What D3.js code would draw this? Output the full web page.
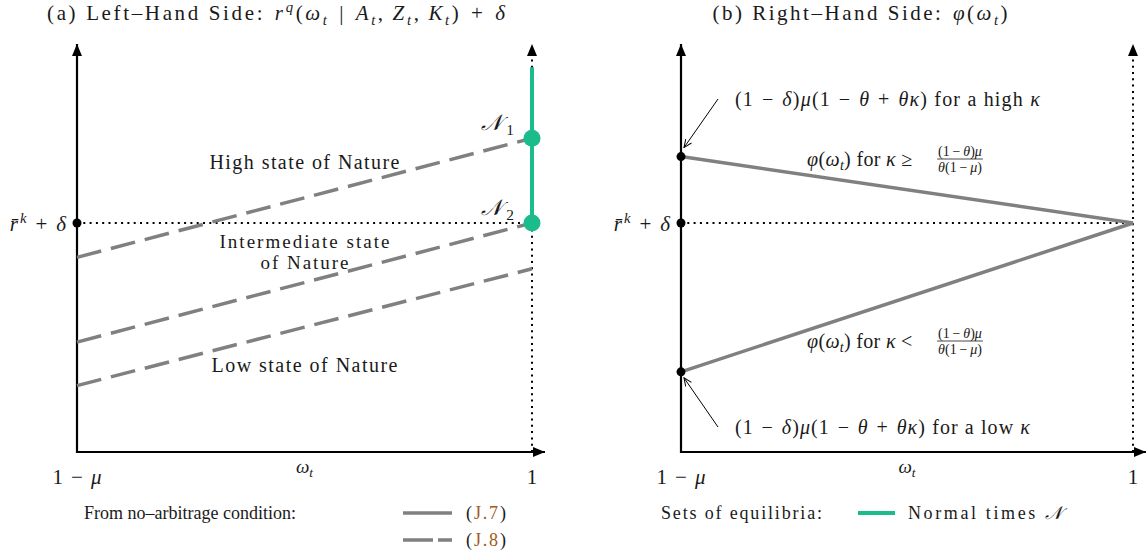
<!DOCTYPE html>
<html>
<head>
<meta charset="utf-8">
<script src="https://cdn.jsdelivr.net/npm/d3@7"></script>
<style>
    body { margin: 0; background: #fff; }
    text { font-family: "Liberation Serif", "Times New Roman", serif; fill: #1a1a1a; }
</style>
</head>
<body>
<div id="chart"></div>
<script>
// ---- data (y in units of r^k + delta = 1, x from 1 - mu = 0 to 1) ----
const xTickValues = [0, 1];
const xTickLabels = ["1 − μ", "1"];
const yRefValue = 1.0;                       // r^k + delta

const stateNames = ["High state of Nature", "Intermediate state of Nature", "Low state of Nature"];
const stateLeft = [0.85, 0.48, 0.29];        // value at 1 - mu
const stateRight = [1.37, 1.00, 0.80];       // value at 1

const normalTimesTop = 1.68;                 // green segment from y=1 up to here
const equilibriumValues = [1.37, 1.00];
const equilibriumNames = ["1", "2"];

const phiLeft = [1.29, 0.35];                // high kappa, low kappa
const phiRight = [1.00, 1.00];

const legendLeft = ["(J.7)", "(J.8)"];
const legendRight = ["Normal times"];

// ---- layout ----
const width = 1148, height = 553;
const yBottom = 452, yTopAxis = 44;
const grey = "#808080", green = "#1abc8c", refColor = "#a3581c";
const fs = 21;
const sp = "\u2004";   // slightly wider space around math operators

const svg = d3.select("#chart").append("svg")
    .attr("width", width)
    .attr("height", height);

const defs = svg.append("defs");
defs.append("marker")
    .attr("id", "tip")
    .attr("markerUnits", "userSpaceOnUse")
    .attr("viewBox", "0 0 12 10")
    .attr("refX", 12).attr("refY", 5)
    .attr("markerWidth", 12).attr("markerHeight", 10)
    .attr("orient", "auto")
    .append("path").attr("d", "M0,0 L12,5 L0,10 Z").attr("fill", "#000");
defs.append("marker")
    .attr("id", "thin")
    .attr("markerUnits", "userSpaceOnUse")
    .attr("viewBox", "0 0 10 10")
    .attr("refX", 9).attr("refY", 5)
    .attr("markerWidth", 10).attr("markerHeight", 10)
    .attr("orient", "auto")
    .append("path").attr("d", "M1,1.5 L9,5 L1,8.5").attr("fill", "none")
    .attr("stroke", "#000").attr("stroke-width", 1);

// math-ish text: parts are strings or [string, flags]; flags: i italic, _ sub, ^ sup, c script, r ref colour
// targetW stretches the letter spacing so the text is as wide as in the figure
function mathText(sel, x, y, parts, size, anchor, targetW) {
    const t = sel.append("text")
        .attr("x", x).attr("y", y)
        .attr("font-size", size)
        .attr("text-anchor", anchor || "start");
    let shift = 0, nChars = 0;
    parts.forEach(p => {
        const str = typeof p === "string" ? p : p[0];
        const flags = typeof p === "string" ? "" : p[1];
        const ts = t.append("tspan").text(str);
        nChars += [...str].length;
        let target = 0;
        if (flags.includes("_")) target = size * 0.22;
        if (flags.includes("^")) target = -size * 0.4;
        if (target !== shift) ts.attr("dy", target - shift);
        shift = target;
        if (flags.includes("i")) ts.attr("font-style", "italic");
        if (flags.includes("_") || flags.includes("^")) ts.attr("font-size", size * 0.7);
        if (flags.includes("c")) ts.attr("font-family", "'DejaVu Serif', serif").attr("font-style", "italic");
        if (flags.includes("r")) ts.style("fill", refColor);
    });
    if (targetW) {
        const len = t.node().getComputedTextLength();
        const ls = (targetW - len) / Math.max(1, nChars - 1);
        t.style("letter-spacing", ls + "px");
        if (anchor === "middle") t.attr("x", x + ls / 2);
        if (anchor === "end") t.attr("x", x + ls);
    }
    return t;
}

function fraction(sel, cx, yBar, num, den, size) {
    const a = mathText(sel, cx, yBar - 3, num, size, "middle");
    const b = mathText(sel, cx, yBar + size * 0.95, den, size, "middle");
    const w = Math.max(a.node().getComputedTextLength(), b.node().getComputedTextLength()) + 2;
    sel.append("line")
        .attr("x1", cx - w / 2).attr("x2", cx + w / 2)
        .attr("y1", yBar).attr("y2", yBar)
        .attr("stroke", "#1a1a1a").attr("stroke-width", 0.8);
}

function makePanel(x0, x1) {
    const x = d3.scaleLinear().domain([0, 1]).range([x0, x1]);
    const y = d3.scaleLinear().domain([0, yRefValue]).range([yBottom, 223]);
    const g = svg.append("g");

    // dotted guides
    g.append("line")
        .attr("x1", x(0)).attr("x2", x(1))
        .attr("y1", y(yRefValue)).attr("y2", y(yRefValue))
        .attr("stroke", "#000").attr("stroke-width", 2)
        .attr("stroke-dasharray", "2,4.3");
    g.append("line")
        .attr("x1", x(1)).attr("x2", x(1))
        .attr("y1", yBottom).attr("y2", yTopAxis)
        .attr("stroke", "#000").attr("stroke-width", 2)
        .attr("stroke-dasharray", "2,4.3")
        .attr("marker-end", "url(#tip)");

    // axes
    g.append("line")
        .attr("x1", x(0)).attr("x2", x(0))
        .attr("y1", yBottom + 1).attr("y2", yTopAxis)
        .attr("stroke", "#000").attr("stroke-width", 2.2)
        .attr("marker-end", "url(#tip)");
    g.append("line")
        .attr("x1", x(0) - 1).attr("x2", x(1) + 13)
        .attr("y1", yBottom).attr("y2", yBottom)
        .attr("stroke", "#000").attr("stroke-width", 2.2)
        .attr("marker-end", "url(#tip)");

    // tick labels
    xTickValues.forEach((v, i) => {
        const lab = xTickLabels[i].split("μ");
        const parts = lab.length > 1 ? [lab[0], ["μ", "i"]] : [lab[0]];
        mathText(g, x(v), yBottom + 32, parts, fs, "middle", lab.length > 1 ? 49 : null);
    });
    mathText(g, (x(0) + x(1)) / 2, yBottom + 21, [["ω", "i"], ["t", "i_"]], 19, "middle");
    mathText(g, x(0) - 11, y(yRefValue) + 8,
        [["r̄", "i"], ["k", "i^"], " + ", ["δ", "i"]], fs, "end", 58);
    g.append("circle")
        .attr("cx", x(0)).attr("cy", y(yRefValue)).attr("r", 4.5).attr("fill", "#000");

    return {g, x, y};
}

// ---------------- (a) left-hand side ----------------
const L = makePanel(77, 532);

mathText(svg, 276, 20, ["(a) Left–Hand Side:" + sp, ["r", "i"], ["q", "i^"], "(", ["ω", "i"], ["t", "i_"],
    sp + "|" + sp, ["A", "i"], ["t", "i_"], ",\u2009", ["Z", "i"], ["t", "i_"], ",\u2009", ["K", "i"], ["t", "i_"],
    ")" + sp + "+" + sp, ["δ", "i"]],
    fs, "middle", 458);

L.g.selectAll(".state")
    .data(stateNames)
    .enter().append("line")
    .attr("class", "state")
    .attr("x1", L.x(0)).attr("x2", L.x(1))
    .attr("y1", (d, i) => L.y(stateLeft[i]))
    .attr("y2", (d, i) => L.y(stateRight[i]))
    .attr("stroke", grey).attr("stroke-width", 3.5)
    .attr("stroke-dasharray", "25,10");

// normal times segment
L.g.append("line")
    .attr("x1", L.x(1)).attr("x2", L.x(1))
    .attr("y1", L.y(yRefValue)).attr("y2", L.y(normalTimesTop))
    .attr("stroke", green).attr("stroke-width", 4);
L.g.selectAll(".eq")
    .data(equilibriumValues)
    .enter().append("circle")
    .attr("class", "eq")
    .attr("cx", L.x(1)).attr("cy", d => L.y(d))
    .attr("r", 8.5).attr("fill", green);
equilibriumValues.forEach((v, i) => {
    mathText(L.g, L.x(1) - 18, L.y(v) - 8, [["𝒩", "c"], [" " + equilibriumNames[i], "_"]], 22, "end");
});

// state labels (second line of the intermediate one wraps)
const stateLabelPos = [1.236, 0.893, 0.349];
const stateLabelWidth = [[190], [170, 88], [186]];
const stateLabelLines = [["High state of Nature"], ["Intermediate state", "of Nature"], ["Low state of Nature"]];
stateLabelLines.forEach((lines, i) => {
    const t = L.g.append("text")
        .attr("font-size", lines.length > 1 ? fs - 2 : fs - 1)
        .attr("text-anchor", "middle");
    lines.forEach((s, j) => {
        const ts = t.append("tspan")
            .attr("x", L.x(0.5))
            .attr("y", L.y(stateLabelPos[i]) + j * 21)
            .text(s);
        const len = ts.node().getComputedTextLength();
        const ls = (stateLabelWidth[i][j] - len) / (s.length - 1);
        ts.style("letter-spacing", ls + "px").attr("x", L.x(0.5) + ls / 2);
    });
});

// ---------------- (b) right-hand side ----------------
const R = makePanel(681, 1133);

mathText(svg, 860, 20, ["(b) Right–Hand Side:" + sp, ["φ", "i"], "(", ["ω", "i"], ["t", "i_"], ")"], fs, "middle", 295);

R.g.selectAll(".phi")
    .data(phiLeft)
    .enter().append("line")
    .attr("class", "phi")
    .attr("x1", R.x(0)).attr("x2", R.x(1))
    .attr("y1", d => R.y(d))
    .attr("y2", (d, i) => R.y(phiRight[i]))
    .attr("stroke", grey).attr("stroke-width", 3.5);
R.g.selectAll(".phidot")
    .data(phiLeft)
    .enter().append("circle")
    .attr("class", "phidot")
    .attr("cx", R.x(0)).attr("cy", d => R.y(d))
    .attr("r", 4.5).attr("fill", "#000");

// value annotations with arrows
const kappaWords = ["high", "low"];
const annY = [106, 434];
const annW = [306, 296];
const arrowFrom = [[718, 99], [718, 427]];
phiLeft.forEach((v, i) => {
    mathText(R.g, 735, annY[i], ["(1" + sp + "−" + sp, ["δ", "i"], ")", ["μ", "i"], "(1" + sp + "−" + sp, ["θ", "i"],
        sp + "+" + sp, ["θκ", "i"], ")  for a " + kappaWords[i] + " ", ["κ", "i"]], fs - 1, "start", annW[i]);
    const tx = R.x(0) + 3, ty = R.y(v) + (i === 0 ? -9 : 6);
    R.g.append("line")
        .attr("x1", arrowFrom[i][0]).attr("y1", arrowFrom[i][1])
        .attr("x2", tx).attr("y2", ty)
        .attr("stroke", "#000").attr("stroke-width", 1)
        .attr("marker-end", "url(#thin)");
});

// phi labels with fractions
const phiLabelY = [166, 348];
const phiOps = ["≥", "<"];
phiLabelY.forEach((yy, i) => {
    mathText(R.g, 807, yy, [["φ", "i"], "(", ["ω", "i"], ["t", "i_"], ")  for  ", ["κ", "i"], " " + phiOps[i]],
        fs - 1, "start", 106);
    fraction(R.g, 960, yy - 7,
        ["(1\u2009−\u2009", ["θ", "i"], ")", ["μ", "i"]],
        [["θ", "i"], "(1\u2009−\u2009", ["μ", "i"], ")"], 14);
});

// ---------------- legends ----------------
mathText(svg, 84, 519, ["From no–arbitrage condition:"], 18, "start", 212);
[0, 1].forEach(i => {
    const yy = 513 + i * 27;
    svg.append("line")
        .attr("x1", 403).attr("x2", 452)
        .attr("y1", yy).attr("y2", yy)
        .attr("stroke", grey).attr("stroke-width", 3.5)
        .attr("stroke-dasharray", i === 0 ? null : "30,5");
    const lab = legendLeft[i].slice(1, -1);
    mathText(svg, 466, yy + 6, ["(", [lab, "r"], ")"], 18, "start", 40);
});

mathText(svg, 661, 519, ["Sets of equilibria:"], 18, "start", 161);
svg.append("line")
    .attr("x1", 858).attr("x2", 895)
    .attr("y1", 513).attr("y2", 513)
    .attr("stroke", green).attr("stroke-width", 4);
mathText(svg, 908, 519, [legendRight[0] + " ", ["𝒩", "c"]], 18, "start", 154);
</script>
</body>
</html>
